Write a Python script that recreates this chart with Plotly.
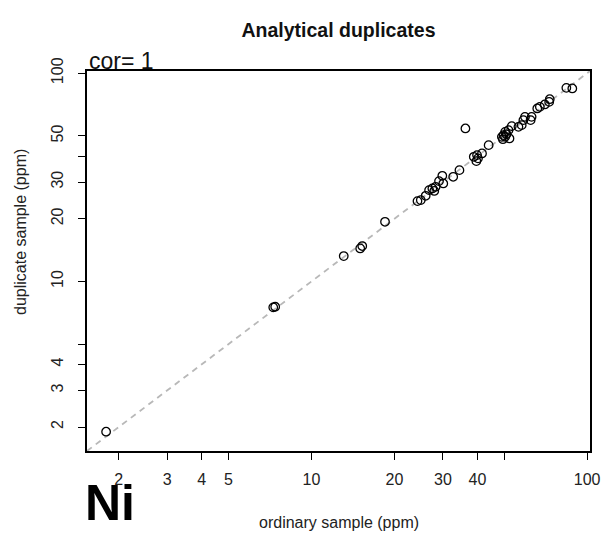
import plotly.graph_objects as go

# data (ppm)
ordinary = [1.80, 7.39, 7.27, 13.1, 15.29, 15.03, 18.49, 24.25, 24.93, 25.97,
            26.72, 27.46, 28.22, 29.03, 30.08, 29.84, 32.68, 34.43, 36.19, 38.81,
            39.66, 39.88, 41.57, 43.94, 49.07, 49.76, 50.43, 50.43, 51.86, 52.29,
            53.30, 56.35, 57.91, 58.73, 59.52, 62.39, 62.91, 65.95, 67.39, 70.24,
            72.84, 73.19, 84.08, 88.37, 49.5, 51.0, 27.9, 40.2]
duplicate = [1.90, 7.56, 7.51, 13.24, 14.79, 14.41, 19.34, 24.31, 24.58, 25.78,
             27.45, 27.97, 28.48, 30.33, 29.56, 32.16, 31.80, 34.24, 54.27, 39.67,
             37.82, 40.42, 41.19, 45.13, 49.46, 50.40, 52.27, 49.46, 53.27, 48.61,
             55.68, 55.25, 56.30, 59.49, 61.70, 59.49, 61.70, 67.70, 68.91, 70.76,
             72.82, 75.02, 85.02, 84.45, 48.2, 50.9, 27.2, 39.0]

x_tickvals = [2, 3, 4, 5, 10, 20, 30, 40, 50, 100]
x_ticktext = ["2", "3", "4", "5", "10", "20", "30", "40", "", "100"]
y_tickvals = [2, 3, 4, 5, 10, 20, 30, 40, 50, 100]
y_ticktext = ["2", "3", "4", "", "10", "20", "30", "", "50", "100"]

log_range = [0.186, 2.0105]
FONT = "Liberation Sans, Arial, sans-serif"

fig = go.Figure()
lo, hi = 10 ** log_range[0], 10 ** log_range[1]
fig.add_trace(go.Scatter(x=[lo, hi], y=[lo, hi], mode="lines",
                         line=dict(color="#b8b8b8", width=1.8, dash="6px,5px"),
                         hoverinfo="skip", showlegend=False))
fig.add_trace(go.Scatter(x=ordinary, y=duplicate, mode="markers",
                         marker=dict(symbol="circle-open", size=8.5,
                                     color="black", line=dict(width=1.3, color="black")),
                         showlegend=False))

axis_common = dict(type="log", range=log_range, showgrid=False, zeroline=False,
                   showline=True, mirror=True, linecolor="black", linewidth=1.6,
                   ticks="outside", ticklen=7, tickwidth=1.4, tickcolor="black",
                   tickfont=dict(family=FONT, size=16, color="#222"))

fig.update_xaxes(**axis_common, tickvals=x_tickvals, ticktext=x_ticktext,
                 ticklabelstandoff=6)
fig.update_yaxes(**axis_common, tickvals=y_tickvals, ticktext=y_ticktext,
                 tickangle=-90, ticklabelstandoff=9)

fig.update_layout(
    width=605, height=525,
    margin=dict(l=79, r=19, t=63, b=82),
    paper_bgcolor="white", plot_bgcolor="white",
    title=dict(text="<b>Analytical duplicates</b>", x=0.5, xref="paper",
               y=1 - 22 / 525, yref="container", yanchor="middle",
               font=dict(family=FONT, size=19.5, color="#111")),
    annotations=[
        dict(text="cor= 1", xref="paper", yref="paper", x=0.0, y=1.0,
             xanchor="left", yanchor="bottom", showarrow=False, yshift=-5,
             font=dict(family=FONT, size=23, color="#111")),
        dict(text="<b>Ni</b>", xref="paper", yref="paper", x=0.0,
             y=-(525 - 443) / 380, xanchor="left", yanchor="bottom",
             showarrow=False, xshift=-4,
             font=dict(family=FONT, size=50, color="black")),
        dict(text="ordinary sample (ppm)", xref="paper", yref="paper", x=0.5,
             y=-71 / 380, xanchor="center", yanchor="middle", showarrow=False,
             font=dict(family=FONT, size=16, color="#222")),
        dict(text="duplicate sample (ppm)", xref="paper", yref="paper", x=0.0,
             y=(451 - 232) / 380, xanchor="center", yanchor="middle",
             xshift=-67, textangle=-90, showarrow=False,
             font=dict(family=FONT, size=16, color="#222")),
    ],
)

fig.write_html("out.html")
